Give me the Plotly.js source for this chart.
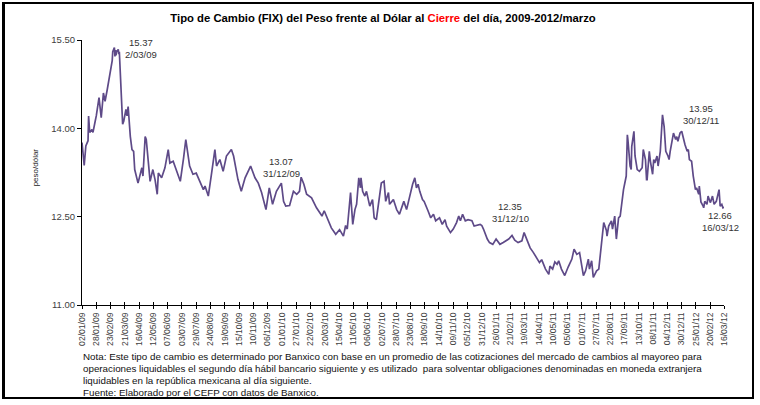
<!DOCTYPE html>
<html>
<head>
<meta charset="utf-8">
<script src="https://cdn.plot.ly/plotly-3.0.1.min.js"></script>
<style>
  html, body { margin:0; padding:0; background:#fff; }
  #wrap { position:relative; width:760px; height:405px; }
  #chart { width:760px; height:405px; }
  #frame { position:absolute; left:2px; top:2px; width:747px; height:393px;
           border-left:3px solid #000; border-top:2px solid #000; border-right:2px solid #000; border-bottom:2px solid #000;
           pointer-events:none; }
</style>
</head>
<body>
<div id="wrap">
  <div id="chart"></div>
  <div id="frame"></div>
</div>
<script>
// FIX peso/dólar, values
const dates09 = ['2009-01-02','2009-01-06','2009-01-09','2009-01-13','2009-01-14','2009-01-16','2009-01-20','2009-01-22',
  '2009-01-26','2009-01-28','2009-02-02','2009-02-06','2009-02-10','2009-02-13','2009-02-17','2009-02-20','2009-02-23',
  '2009-02-26','2009-02-27','2009-03-02','2009-03-03','2009-03-04','2009-03-05','2009-03-06','2009-03-09','2009-03-10',
  '2009-03-11','2009-03-12','2009-03-13','2009-03-17','2009-03-19','2009-03-23','2009-03-25','2009-03-27','2009-03-31',
  '2009-04-03','2009-04-06','2009-04-08','2009-04-14','2009-04-17','2009-04-21','2009-04-23','2009-04-27','2009-04-29',
  '2009-05-04','2009-05-06','2009-05-11','2009-05-15','2009-05-19','2009-05-21','2009-05-27','2009-06-02','2009-06-08',
  '2009-06-11','2009-06-17','2009-06-23','2009-06-30','2009-07-06','2009-07-10','2009-07-17','2009-07-23','2009-07-29',
  '2009-08-05','2009-08-11','2009-08-14','2009-08-20','2009-08-26','2009-09-01','2009-09-04','2009-09-10','2009-09-16',
  '2009-09-22','2009-10-01','2009-10-05','2009-10-13','2009-10-19','2009-10-26','2009-11-05','2009-11-13','2009-11-19',
  '2009-11-25','2009-12-03','2009-12-09','2009-12-15','2009-12-22','2009-12-29','2009-12-31'];
const fix09 = [13.76,13.37,13.70,13.79,14.21,13.93,13.98,13.93,
  14.12,14.21,14.52,14.18,14.60,14.46,14.66,14.83,14.94,
  15.15,15.30,15.37,15.22,15.33,15.24,15.30,15.34,15.26,
  15.30,15.10,14.94,14.07,14.12,14.32,14.21,14.37,13.86,
  13.64,13.61,13.30,13.07,13.19,13.33,13.19,13.86,13.81,
  13.24,13.10,13.30,13.13,12.88,13.24,13.16,13.33,13.64,
  13.41,13.44,13.27,13.10,13.50,13.81,13.36,13.22,13.24,
  13.07,12.96,13.02,12.85,13.24,13.64,13.36,13.47,13.27,
  13.53,13.64,13.53,13.13,12.93,13.16,13.36,13.16,13.07,
  12.91,12.62,12.99,12.71,12.93,13.05,13.07];

const dates10 = ['2010-01-04','2010-01-08','2010-01-15','2010-01-22','2010-01-28','2010-02-02','2010-02-05','2010-02-10',
  '2010-02-15','2010-02-24','2010-03-05','2010-03-15','2010-03-19','2010-03-26','2010-04-01','2010-04-09','2010-04-16',
  '2010-04-23','2010-04-27','2010-04-30','2010-05-06','2010-05-10','2010-05-14','2010-05-17','2010-05-21','2010-05-24',
  '2010-05-25','2010-05-28','2010-06-01','2010-06-04','2010-06-10','2010-06-15','2010-06-18','2010-06-22','2010-06-25',
  '2010-07-01','2010-07-06','2010-07-09','2010-07-14','2010-07-16','2010-07-23','2010-07-29','2010-08-03','2010-08-06',
  '2010-08-11','2010-08-16','2010-08-23','2010-08-27','2010-08-31','2010-09-03','2010-09-06','2010-09-09','2010-09-14',
  '2010-09-17','2010-09-24','2010-09-29','2010-10-04','2010-10-08','2010-10-15','2010-10-20','2010-10-25','2010-10-28',
  '2010-11-04','2010-11-09','2010-11-15','2010-11-19','2010-11-22','2010-11-26','2010-12-01','2010-12-06','2010-12-13',
  '2010-12-17','2010-12-28','2010-12-31'];
const fix10 = [12.76,12.68,12.69,12.93,12.88,12.93,13.17,13.05,
  12.88,12.82,12.65,12.51,12.60,12.45,12.31,12.20,12.28,
  12.17,12.35,12.29,12.91,12.37,12.62,12.71,13.16,12.99,
  13.16,12.93,12.85,12.93,12.68,12.79,12.48,12.45,12.68,
  13.07,13.10,12.76,12.91,12.71,12.79,12.62,12.54,12.62,
  12.76,12.62,12.91,13.05,13.16,12.99,13.05,12.93,12.79,
  12.76,12.60,12.48,12.54,12.43,12.48,12.37,12.45,12.34,
  12.23,12.29,12.40,12.51,12.43,12.54,12.43,12.45,12.43,
  12.34,12.37,12.35];

const dates11 = ['2011-01-03','2011-01-10','2011-01-14','2011-01-20','2011-01-26','2011-02-02','2011-02-08','2011-02-14',
  '2011-02-18','2011-02-24','2011-03-01','2011-03-07','2011-03-14','2011-03-18','2011-03-23','2011-03-29','2011-04-04',
  '2011-04-08','2011-04-15','2011-04-19','2011-04-26','2011-05-02','2011-05-04','2011-05-09','2011-05-13','2011-05-17',
  '2011-05-20','2011-05-25','2011-05-31','2011-06-06','2011-06-13','2011-06-17','2011-06-22','2011-06-27','2011-07-01',
  '2011-07-04','2011-07-08','2011-07-13','2011-07-15','2011-07-19','2011-07-22','2011-07-28','2011-08-01','2011-08-05',
  '2011-08-10','2011-08-15','2011-08-16','2011-08-19','2011-08-24','2011-08-26','2011-08-30','2011-09-02','2011-09-06',
  '2011-09-09','2011-09-14','2011-09-15','2011-09-20','2011-09-22','2011-09-23','2011-09-27','2011-09-29','2011-09-30',
  '2011-10-04','2011-10-06','2011-10-10','2011-10-14','2011-10-19','2011-10-21','2011-10-25','2011-10-27','2011-10-28',
  '2011-11-01','2011-11-03','2011-11-07','2011-11-09','2011-11-11','2011-11-15','2011-11-17','2011-11-21','2011-11-23',
  '2011-11-25','2011-11-28','2011-12-01','2011-12-05','2011-12-07','2011-12-09','2011-12-12','2011-12-15','2011-12-19',
  '2011-12-21','2011-12-23','2011-12-27','2011-12-30'];
const fix11 = [12.29,12.12,12.06,12.03,12.12,12.03,12.06,12.09,
  12.12,12.18,12.10,12.06,12.09,12.23,12.12,11.97,11.89,
  11.83,11.72,11.77,11.61,11.52,11.66,11.61,11.73,11.69,
  11.75,11.61,11.50,11.64,11.78,11.95,11.86,11.89,11.66,
  11.50,11.58,11.78,11.61,11.75,11.47,11.58,11.61,12.00,
  12.40,12.26,12.17,12.34,12.43,12.29,12.51,12.12,12.48,
  12.51,12.91,12.96,13.19,13.89,13.81,13.36,13.30,13.69,
  13.95,13.53,13.30,13.27,13.33,13.64,13.47,13.13,13.13,
  13.61,13.44,13.22,13.47,13.41,13.53,13.36,13.61,13.92,
  14.23,14.03,13.61,13.53,13.47,13.61,13.75,13.92,13.81,
  13.86,13.78,13.92,13.95];

const dates12 = ['2012-01-02','2012-01-05','2012-01-09','2012-01-11','2012-01-13','2012-01-17','2012-01-20','2012-01-24',
  '2012-01-26','2012-01-30','2012-01-31','2012-02-02','2012-02-03','2012-02-07','2012-02-08','2012-02-10','2012-02-14',
  '2012-02-16','2012-02-20','2012-02-21','2012-02-24','2012-02-27','2012-03-02','2012-03-07','2012-03-09','2012-03-12',
  '2012-03-14','2012-03-16'];
const fix12 = [13.81,13.72,13.61,13.64,13.47,13.44,13.19,12.96,
  12.99,12.88,13.02,12.85,12.75,12.68,12.65,12.76,12.71,
  12.85,12.74,12.76,12.85,12.71,12.76,12.96,12.68,12.71,
  12.65,12.66];

// x tick marks every 26 days from the first date, last one at the final date
const tickDates = ['2009-01-02','2009-01-28','2009-02-23','2009-03-21','2009-04-16','2009-05-12','2009-06-07','2009-07-03',
  '2009-07-29','2009-08-24','2009-09-19','2009-10-15','2009-11-10','2009-12-06','2010-01-01','2010-01-27','2010-02-22',
  '2010-03-20','2010-04-15','2010-05-11','2010-06-06','2010-07-02','2010-07-28','2010-08-23','2010-09-18','2010-10-14',
  '2010-11-09','2010-12-05','2010-12-31','2011-01-26','2011-02-21','2011-03-19','2011-04-14','2011-05-10','2011-06-05',
  '2011-07-01','2011-07-27','2011-08-22','2011-09-17','2011-10-13','2011-11-08','2011-12-04','2011-12-30','2012-01-25',
  '2012-02-20','2012-03-16'];
const tickText = tickDates.map(function(d){ const p = d.split('-'); return p[2]+'/'+p[1]+'/'+p[0].slice(2); });

const yTicks = [11.00, 12.50, 14.00, 15.50];

// labelled points
const labelValues = ['15.37','13.07','12.35','13.95','12.66'];
const labelDates = ['2/03/09','31/12/09','31/12/10','30/12/11','16/03/12'];
const labelPos = [[0.092,0.989,0.947],[0.310,0.540,0.498],[0.667,0.370,0.325],[0.964,0.740,0.698],[0.994,0.336,0.291]];

const notes = [
  'Nota: Este tipo de cambio es determinado por Banxico con base en un promedio de las cotizaciones del mercado de cambios al mayoreo para',
  'operaciones liquidables el segundo día hábil bancario siguiente y es utilizado  para solventar obligaciones denominadas en moneda extranjera',
  'liquidables en la república mexicana al día siguiente.',
  'Fuente: Elaborado por el CEFP con datos de Banxico.'
];
const noteY = [-0.194, -0.240, -0.285, -0.330];

const xs = dates09.concat(dates10, dates11, dates12);
const ys = fix09.concat(fix10, fix11, fix12);

const FONT = 'Liberation Sans, Arial, sans-serif';
const GREY = '#404040';

const trace = {
  x: xs, y: ys, type:'scatter', mode:'lines',
  line:{color:'#5E4A88', width:1.7}, hoverinfo:'x+y'
};
const ghost = { x:[], y:[], xaxis:'x2', type:'scatter', mode:'lines', hoverinfo:'skip', showlegend:false };

const annotations = [];
labelValues.forEach(function(v,i){
  const p = labelPos[i];
  annotations.push({xref:'paper', yref:'paper', x:p[0], y:p[1], text:v, showarrow:false,
    xanchor:'center', yanchor:'middle', font:{family:FONT, size:9.5, color:'#333'}});
  annotations.push({xref:'paper', yref:'paper', x:p[0], y:p[2], text:labelDates[i], showarrow:false,
    xanchor:'center', yanchor:'middle', font:{family:FONT, size:9.5, color:'#333'}});
});
notes.forEach(function(t,i){
  annotations.push({xref:'paper', yref:'paper', x:-0.001, y:noteY[i], text:t, showarrow:false,
    xanchor:'left', yanchor:'middle', font:{family:FONT, size:9.8, color:'#111'}});
});
annotations.push({xref:'paper', yref:'paper', x:-0.073, y:0.52, text:'peso/dólar', textangle:-90,
  showarrow:false, xanchor:'center', yanchor:'middle', font:{family:FONT, size:8, color:'#222'}});

const xRange = [tickDates[0], tickDates[tickDates.length-1]];

const layout = {
  width:760, height:405,
  margin:{l:82, r:36, t:40, b:100},
  paper_bgcolor:'#fff', plot_bgcolor:'#fff',
  showlegend:false,
  title:{
    text:'<b>Tipo de Cambio (FIX) del Peso frente al Dólar al <span style="color:#ff0000">Cierre</span> del día, 2009-2012/marzo</b>',
    x:0.504, xref:'container', xanchor:'center', y:0.956, yanchor:'middle',
    font:{family:FONT, size:11.3, color:'#000'}
  },
  xaxis:{
    type:'date', range:xRange, tickvals:tickDates, ticktext:tickText, tickangle:-90,
    ticks:'outside', ticklen:3, tickcolor:'#000', showline:true, linecolor:'#000', linewidth:1,
    showgrid:false, zeroline:false, tickfont:{family:FONT, size:8.6, color:GREY}
  },
  xaxis2:{
    type:'date', range:xRange, tickvals:tickDates, overlaying:'x', anchor:'y',
    ticks:'inside', ticklen:3, tickcolor:'#000', showticklabels:false, showline:false,
    showgrid:false, zeroline:false
  },
  yaxis:{
    range:[11, 15.5], tickvals:yTicks, ticktext:yTicks.map(function(v){ return v.toFixed(2); }),
    ticks:'outside', ticklen:4, tickcolor:'#000', showline:true, linecolor:'#000', linewidth:1,
    showgrid:false, zeroline:false, tickfont:{family:FONT, size:9.5, color:GREY}
  },
  annotations:annotations
};

Plotly.newPlot('chart', [trace, ghost], layout, {displayModeBar:false, staticPlot:true});
</script>
</body>
</html>
